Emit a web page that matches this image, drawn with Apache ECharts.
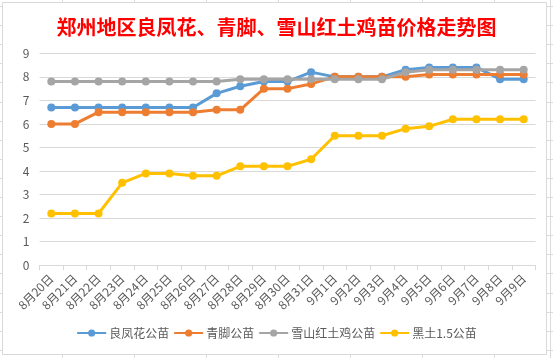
<!DOCTYPE html>
<html><head><meta charset="utf-8">
<script src="https://cdn.jsdelivr.net/npm/echarts@6/dist/echarts.min.js"></script>
<style>html,body{margin:0;padding:0;background:#fff}#c{width:553px;height:358px}</style>
</head><body><div id="c"></div>
<script>
const categories = ['8月20日','8月21日','8月22日','8月23日','8月24日','8月25日','8月26日','8月27日','8月28日','8月29日','8月30日','8月31日','9月1日','9月2日','9月3日','9月4日','9月5日','9月6日','9月7日','9月8日','9月9日'];
const liangfenghua = [6.7,6.7,6.7,6.7,6.7,6.7,6.7,7.3,7.6,7.8,7.8,8.2,8.0,8.0,8.0,8.3,8.4,8.4,8.4,7.9,7.9];
const qingjiao     = [6.0,6.0,6.5,6.5,6.5,6.5,6.5,6.6,6.6,7.5,7.5,7.7,8.0,8.0,8.0,8.0,8.1,8.1,8.1,8.1,8.1];
const xueshan      = [7.8,7.8,7.8,7.8,7.8,7.8,7.8,7.8,7.9,7.9,7.9,7.9,7.9,7.9,7.9,8.2,8.3,8.3,8.3,8.3,8.3];
const heitu        = [2.2,2.2,2.2,3.5,3.9,3.9,3.8,3.8,4.2,4.2,4.2,4.5,5.5,5.5,5.5,5.8,5.9,6.2,6.2,6.2,6.2];
const seriesNames = ['良凤花公苗','青脚公苗','雪山红土鸡公苗','黑土1.5公苗'];
const colors = ['#5B9BD5','#ED7D31','#A5A5A5','#FFC000'];

const gfx = [];
const cellColor = '#dadada';
[62,134,206,278,350,422,494].forEach(x => {
  gfx.push({type:'line', z:-20, shape:{x1:x+0.5,y1:0,x2:x+0.5,y2:358}, style:{stroke:cellColor,lineWidth:1}});
});
gfx.push({type:'line', z:-20, shape:{x1:550.5,y1:0,x2:550.5,y2:358}, style:{stroke:cellColor,lineWidth:1}});
for (let k=0;k<20;k++){ const y=Math.round(6+19.1*k)+0.5;
  gfx.push({type:'line', z:-20, shape:{x1:0,y1:y,x2:553,y2:y}, style:{stroke:cellColor,lineWidth:1}});
}
gfx.push({type:'rect', z:-10, shape:{x:2.5,y:2.5,width:544,height:352}, style:{fill:'#fff',stroke:'#d9d9d9',lineWidth:1}});

const chart = echarts.init(document.getElementById('c'), null, {renderer:'canvas'});
chart.setOption({
  animation:false,
  graphic: gfx,
  color: colors,
  title:{
    text:'郑州地区良凤花、青脚、雪山红土鸡苗价格走势图',
    left:'center', top:12,
    textStyle:{color:'#FF0000', fontSize:20, fontWeight:'bold', fontFamily:'Noto Sans CJK SC'}
  },
  legend:{
    data: seriesNames,
    bottom: 14, left:'center',
    itemWidth:29, itemHeight:9, itemGap:4,
    textStyle:{color:'#595959', fontSize:12, fontFamily:'Noto Sans CJK SC', padding:[0,0,0,-2]}
  },
  grid:{left:39.5, right:17.5, top:53.3, bottom:92.7, containLabel:false},
  xAxis:{
    type:'category', data:categories, boundaryGap:true,
    axisLine:{lineStyle:{color:'#d9d9d9'}},
    axisTick:{show:true, length:5, lineStyle:{color:'#d9d9d9'}},
    axisLabel:{rotate:45, color:'#595959', fontSize:12, interval:0, margin:11, fontFamily:'Noto Sans CJK SC'}
  },
  yAxis:{
    type:'value', min:0, max:9, interval:1,
    axisLine:{show:false}, axisTick:{show:false},
    splitLine:{lineStyle:{color:'#d9d9d9'}},
    axisLabel:{color:'#595959', fontSize:12, margin:10, fontFamily:'Noto Sans CJK SC'}
  },
  series:[liangfenghua,qingjiao,xueshan,heitu].map((d,i)=>({
    name:seriesNames[i], type:'line', data:d,
    symbol:'circle', symbolSize:8,
    lineStyle:{width:3, color:colors[i]},
    itemStyle:{color:colors[i]},
    z: 2+i
  }))
});
</script></body></html>
